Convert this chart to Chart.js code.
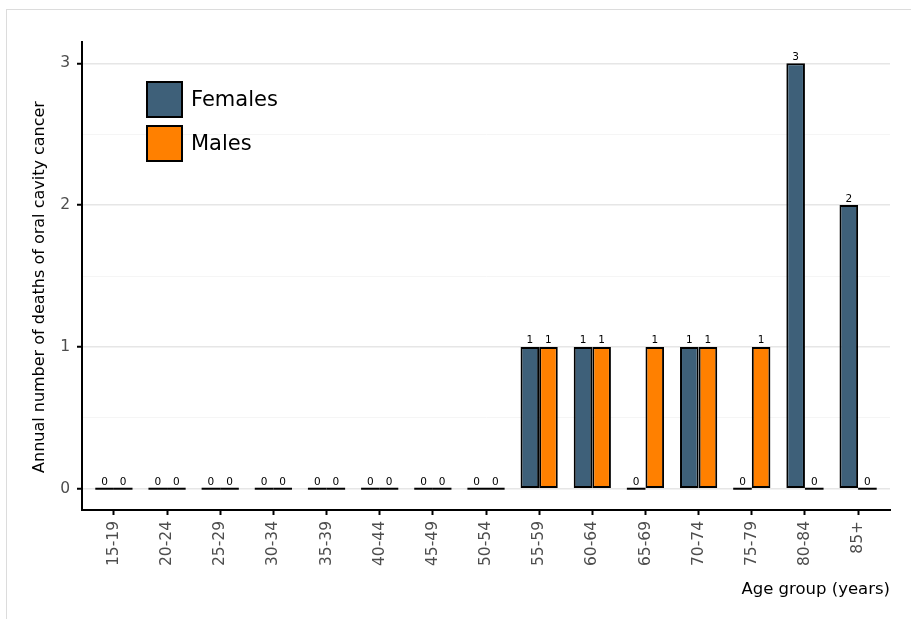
<!DOCTYPE html>
<html><head><meta charset="utf-8">
<script src="https://cdn.jsdelivr.net/npm/chart.js@4/dist/chart.umd.min.js"></script>
<style>
html,body{margin:0;padding:0;background:#fff;overflow:hidden;width:911px;height:619px}
#frame{position:absolute;left:6px;top:9px;width:1000px;height:1000px;border:1px solid #dcdcdc;box-sizing:border-box}
#c{position:absolute;left:0;top:0}
</style></head><body>
<div id="frame"></div>
<canvas id="c" width="911" height="619"></canvas>
<script>
const categories = ['15-19','20-24','25-29','30-34','35-39','40-44','45-49','50-54','55-59','60-64','65-69','70-74','75-79','80-84','85+'];
const females = [0,0,0,0,0,0,0,0,1,1,0,1,0,3,2];
const males   = [0,0,0,0,0,0,0,0,1,1,1,1,1,0,0];
const seriesNames = ['Females','Males'];
const seriesColors = ['#3e6079','#ff8000'];
const yTicks = [0,0.5,1,1.5,2,2.5,3];
const xTitle = 'Age group (years)';
const yTitle = 'Annual number of deaths of oral cavity cancer';

const FONT = "'DejaVu Sans', sans-serif";

const zeroAndLabels = {
  id: 'zeroAndLabels',
  afterDatasetsDraw(chart) {
    const ctx = chart.ctx;
    ctx.save();
    chart.data.datasets.forEach((ds, di) => {
      const meta = chart.getDatasetMeta(di);
      meta.data.forEach((el, i) => {
        const p = el.getProps(['x','y','width','base'], true);
        const v = ds.data[i].y;
        if (v === 0) {
          ctx.strokeStyle = '#000';
          ctx.lineWidth = 2;
          ctx.beginPath();
          ctx.moveTo(p.x - p.width/2, p.y);
          ctx.lineTo(p.x + p.width/2, p.y);
          ctx.stroke();
        }
        ctx.fillStyle = '#000';
        ctx.font = '10.5px ' + FONT;
        ctx.textAlign = 'center';
        ctx.textBaseline = 'bottom';
        ctx.fillText(String(v), p.x, p.y - 1);
      });
    });
    ctx.restore();
  }
};

const boxLegendAndYTitle = {
  id: 'boxLegendAndYTitle',
  afterDraw(chart) {
    const ctx = chart.ctx;
    ctx.save();
    chart.data.datasets.forEach((ds, i) => {
      const x = 147, y = 82 + i * 44, s = 35;
      ctx.fillStyle = ds.backgroundColor;
      ctx.fillRect(x, y, s, s);
      ctx.strokeStyle = '#000';
      ctx.lineWidth = 2;
      ctx.strokeRect(x, y, s, s);
      ctx.fillStyle = '#000';
      ctx.font = '21px ' + FONT;
      ctx.textAlign = 'left';
      ctx.textBaseline = 'middle';
      ctx.fillText(ds.label, 191, y + s/2 + 1);
    });
    // y-axis title
    ctx.translate(40, 287);
    ctx.rotate(-Math.PI/2);
    ctx.fillStyle = '#000';
    ctx.font = '16px ' + FONT;
    ctx.textAlign = 'center';
    ctx.textBaseline = 'middle';
    ctx.fillText(yTitle, 0, 0);
    ctx.restore();
  }
};

new Chart(document.getElementById('c'), {
  type: 'bar',
  data: {
    datasets: [
      { label: seriesNames[0], data: females.map((v,i)=>({x:i,y:v})), backgroundColor: seriesColors[0], borderColor:'#000', borderWidth:2, borderSkipped:false },
      { label: seriesNames[1], data: males.map((v,i)=>({x:i,y:v})), backgroundColor: seriesColors[1], borderColor:'#000', borderWidth:2, borderSkipped:false }
    ]
  },
  options: {
    responsive: false,
    animation: false,
    devicePixelRatio: 1,
    categoryPercentage: 0.7,
    barPercentage: 1.0,
    layout: { padding: { top: 42, right: 21, left: 0, bottom: 0 } },
    plugins: { legend: { display: false }, tooltip: { enabled: false } },
    scales: {
      x: {
        type: 'linear', min: -0.6, max: 14.6, offset: false,
        afterBuildTicks(s) { s.ticks = categories.map((c,i)=>({value:i})); },
        afterFit(s) { s.height = 109; },
        ticks: { autoSkip: false, maxRotation: 90, minRotation: 90, padding: 6, color: '#4d4d4d',
          font: { family: FONT, size: 15.5 }, callback: (v) => categories[v] },
        grid: { offset: false, drawOnChartArea: false, tickColor: '#000', tickLength: 5, tickWidth: 2 },
        border: { color: '#000', width: 2 },
        title: { display: true, text: xTitle, align: 'end', color: '#000', font: { family: FONT, size: 16.5 }, padding: { top: 0, bottom: 19 } }
      },
      y: {
        type: 'linear', min: -0.15, max: 3.15,
        afterBuildTicks(s) { s.ticks = yTicks.map(v=>({value:v})); },
        afterFit(s) { s.width = 82; },
        ticks: { padding: 7, color: '#4d4d4d', font: { family: FONT, size: 15.5 },
          callback: (v) => (v % 1 === 0 ? String(v) : '') },
        grid: {
          color: (c) => (c.tick && c.tick.value % 1 === 0 ? '#e6e6e6' : '#f5f5f5'),
          lineWidth: (c) => (c.tick && c.tick.value % 1 === 0 ? 1.5 : 1),
          tickColor: (c) => (c.tick && c.tick.value % 1 === 0 ? '#000' : 'rgba(0,0,0,0)'),
          tickLength: 5, tickWidth: 2
        },
        border: { color: '#000', width: 2 },
        title: { display: false }
      }
    }
  },
  plugins: [zeroAndLabels, boxLegendAndYTitle]
});
</script>
</body></html>
